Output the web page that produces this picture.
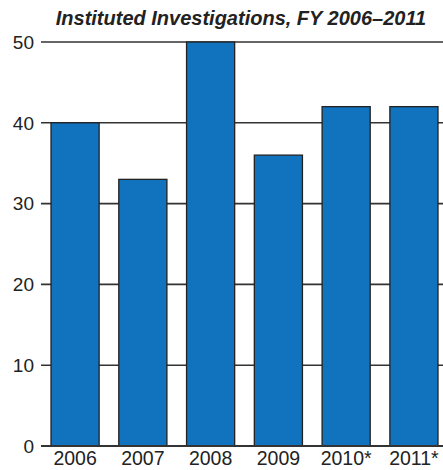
<!DOCTYPE html>
<html>
<head>
<meta charset="utf-8">
<script src="https://cdn.jsdelivr.net/npm/d3@7"></script>
<style>
  body { margin: 0; background: #fff; }
  svg { display: block; font-family: "Liberation Sans", Arial, sans-serif; }
</style>
</head>
<body>
<div id="chart"></div>
<script>
/* Chart data
--------------------------------------------------- */
const years = ['2006', '2007', '2008', '2009', '2010*', '2011*'];
const investigations = [40, 33, 50, 36, 42, 42];
const yTicks = [0, 10, 20, 30, 40, 50];
const title = 'Instituted Investigations, FY 2006\u20132011';

/* Draw the chart
--------------------------------------------------- */
const width = 443;
const height = 470;
const margin = { top: 42, right: -4, bottom: 24, left: 42 };

const svg = d3
  .select('#chart')
  .append('svg')
  .attr('width', width)
  .attr('height', height);

const x = d3
  .scaleBand()
  .domain(years)
  .range([margin.left, width - margin.right])
  .paddingInner(0.29)
  .paddingOuter(0.133);

const y = d3
  .scaleLinear()
  .domain([0, 50])
  .range([height - margin.bottom, margin.top]);

// grid lines
svg
  .append('g')
  .selectAll('line')
  .data(yTicks)
  .enter()
  .append('line')
  .attr('x1', margin.left - 1)
  .attr('x2', width)
  .attr('y1', d => y(d))
  .attr('y2', d => y(d))
  .attr('stroke', '#333')
  .attr('stroke-width', 1.6);

// y labels
svg
  .append('g')
  .selectAll('text')
  .data(yTicks)
  .enter()
  .append('text')
  .attr('x', 34)
  .attr('y', d => y(d))
  .attr('dy', '0.36em')
  .attr('text-anchor', 'end')
  .attr('font-size', 19)
  .attr('fill', '#222')
  .text(d => d);

// bars
svg
  .append('g')
  .selectAll('rect')
  .data(investigations)
  .enter()
  .append('rect')
  .attr('x', (d, i) => x(years[i]))
  .attr('y', d => y(d))
  .attr('width', x.bandwidth())
  .attr('height', d => y(0) - y(d))
  .attr('fill', '#1173bd')
  .attr('stroke', '#222')
  .attr('stroke-width', 1.3);

// baseline
svg
  .append('line')
  .attr('x1', margin.left - 1)
  .attr('x2', width)
  .attr('y1', y(0))
  .attr('y2', y(0))
  .attr('stroke', '#333')
  .attr('stroke-width', 1.8);

// x labels
svg
  .append('g')
  .selectAll('text')
  .data(years)
  .enter()
  .append('text')
  .attr('x', d => x(d) + x.bandwidth() / 2)
  .attr('y', 465)
  .attr('text-anchor', 'middle')
  .attr('font-size', 19.5)
  .attr('fill', '#222')
  .text(d => d);

// title
svg
  .append('text')
  .attr('x', 241)
  .attr('y', 25)
  .attr('text-anchor', 'middle')
  .attr('font-size', 20)
  .attr('font-weight', 'bold')
  .attr('font-style', 'italic')
  .attr('fill', '#222')
  .text(title);
</script>
</body>
</html>
